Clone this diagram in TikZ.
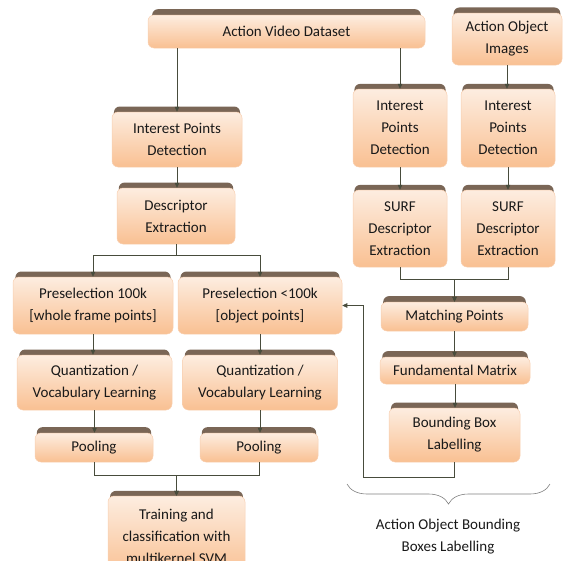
\documentclass[tikz,border=0pt]{standalone}
\usepackage{fontspec}
\setmainfont{Carlito}
\usetikzlibrary{arrows.meta,shadows,decorations.pathreplacing}
\definecolor{peachtop}{RGB}{253,237,224}
\definecolor{peachbot}{RGB}{249,192,146}
\definecolor{peachline}{RGB}{248,208,178}
\definecolor{bevel}{RGB}{122,102,86}
\definecolor{wire}{RGB}{72,76,60}
\definecolor{ink}{RGB}{25,25,25}
\begin{document}
\begin{tikzpicture}[x=1pt,y=-1pt,
    stage/.style={rectangle,rounded corners=6pt,draw=peachline,line width=0.5pt,
        top color=peachtop,bottom color=peachbot,text=ink,align=center,
        inner sep=0pt,font=\fontsize{15}{22}\selectfont,
        general shadow={fill=bevel,shadow yshift=6.5pt,shadow scale=0.97}},
    arr/.style={draw=wire,line width=0.6pt,-{Triangle[width=4.5pt,length=5pt]}},
    wirebrace/.style={draw=gray,line width=0.6pt,decorate,
        decoration={brace,amplitude=20pt}}]
    \clip (0,0) rectangle (568,560);
    % left branch: video points
    \node[stage,minimum width=277pt,minimum height=33pt] (avd) at (286.5,31.5)
        {Action Video Dataset};
    \node[stage,minimum width=130pt,minimum height=55pt] (ipd) at (177,139.5)
        {Interest Points\\Detection};
    \node[stage,minimum width=118pt,minimum height=56pt] (desc) at (176,216)
        {Descriptor\\Extraction};
    \node[stage,minimum width=160pt,minimum height=57pt] (pre1) at (93,305.5)
        {Preselection 100k\\{[whole frame points]}};
    \node[stage,minimum width=164pt,minimum height=57pt] (pre2) at (260,305.5)
        {Preselection <100k\\{[object points]}};
    \foreach \n/\x in {1/94.5,2/260}
    \node[stage,minimum width=155pt,minimum height=55pt] (quant\n) at (\x,382.5)
        {Quantization /\\Vocabulary Learning};
    \foreach \n/\x in {1/94,2/259}
    \node[stage,minimum width=118pt,minimum height=29pt] (pool\n) at (\x,447.5)
        {Pooling};
    \node[stage,minimum width=137pt,minimum height=80pt] (train) at (176.5,536)
        {Training and\\classification with\\multikernel SVM};
    % right branch: object boxes
    \node[stage,minimum width=110pt,minimum height=52pt] (aoi) at (507,39)
        {Action Object\\Images};
    \foreach \n/\x in {A/400,B/508} {
        \node[stage,minimum width=94pt,minimum height=78pt] (ipd\n) at (\x,128)
            {Interest\\Points\\Detection};
        \node[stage,minimum width=94pt,minimum height=77pt] (surf\n) at (\x,228.5)
            {SURF\\Descriptor\\Extraction};
    }
    \node[stage,minimum width=147pt,minimum height=29pt] (match) at (454.5,316.5)
        {Matching Points};
    \node[stage,minimum width=150pt,minimum height=27pt] (fund) at (455,370.5)
        {Fundamental Matrix};
    \node[stage,minimum width=131pt,minimum height=54pt] (bbl) at (454.5,435)
        {Bounding Box\\Labelling};
    % connectors
    \draw[arr] (ipd.north |- avd.south) -- (ipd.north);
    \draw[arr] (ipdA.north |- avd.south) -- (ipdA.north);
    \foreach \a/\b in {aoi/ipdB,ipd/desc,pre1/quant1,pre2/quant2,quant1/pool1,
        quant2/pool2,ipdA/surfA,ipdB/surfB,match/fund,fund/bbl}
    \draw[arr] (\a.south) -- (\a.south |- \b.north);
    \foreach \b in {pre1,pre2}
    \draw[arr] (desc.south) -- ++(0,11) -| (\b.north);
    \foreach \a in {pool1,pool2}
    \draw[arr] (\a.south) -- ++(0,13) -| (train.north);
    \foreach \a in {surfA,surfB}
    \draw[arr] (\a.south) -- ++(0,12) -| (match.north);
    \coordinate (back) at (363,477);
    \draw[arr] (bbl.south) |- (back) |- (pre2.east);
    % brace and its caption
    \draw[wirebrace] (550,484) -- (347,484);
    \node[text=ink,align=center,font=\fontsize{15}{22}\selectfont] (lab) at (448,536.5)
        {Action Object Bounding\\Boxes Labelling};
\end{tikzpicture}
\end{document}
